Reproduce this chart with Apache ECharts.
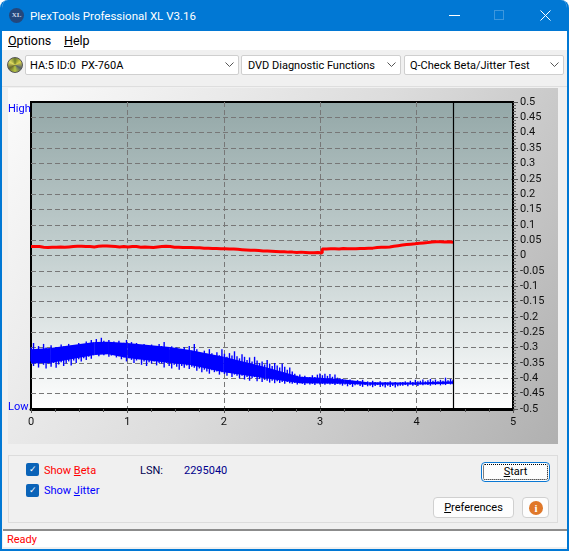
<!DOCTYPE html>
<html>
<head>
<meta charset="utf-8">
<title>PlexTools Professional XL V3.16</title>
<script src="https://cdn.jsdelivr.net/npm/echarts@6/dist/echarts.min.js"></script>
<style>
html, body { margin: 0; padding: 0; width: 569px; height: 551px; overflow: hidden; background: #fff; }
body { font-family: Roboto, "Noto Sans", sans-serif; font-size: 11px; color: #000; }
div { position: absolute; box-sizing: border-box; white-space: nowrap; }
#win { left: 0; top: 0; width: 569px; height: 551px; background: #f0f0f0; border: 2px solid #0178d4; border-top: 0; border-radius: 8px 8px 0 0; overflow: hidden; }
#bar { left: -2px; top: 0; width: 569px; height: 31px; background: #0178d4; color: #fff; font-size: 11.5px; line-height: 32px; padding-left: 30px; }
#menu { left: -2px; top: 31px; width: 569px; height: 19px; background: #fff; line-height: 20px; font-size: 12.5px; }
.combo { top: 55px; height: 20px; background: #fff; border: 1px solid #cfcfcf; border-radius: 2px; line-height: 19px; font-size: 11px; }
.combo svg { position: absolute; right: 4px; top: 6px; }
#chart { left: 6px; top: 88px; width: 550px; height: 356px; }
#group { left: 6px; top: 455px; width: 550px; height: 68px; border: 1px solid #dcdcdc; }
.check { width: 13px; height: 13px; left: 24px; background: #0a63b8; border-radius: 2px; color: #fff; font-size: 9px; line-height: 13px; text-align: center; }
.btn { background: #fdfdfd; border: 1px solid #d0d0d0; border-radius: 4px; text-align: center; }
#status { left: 1px; top: 529px; width: 565px; height: 18px; background: #fff; border-top: 2px solid #8c8c8c; color: #f00; line-height: 17px; padding-left: 4px; }
</style>
</head>
<body>
<div id="win">
  <div id="bar">PlexTools Professional XL V3.16
    <div style="left:9px;top:8px;width:15px;height:15px;border-radius:8px;background:#23477c;color:#cdd8e8;font:bold 7px/15px 'Liberation Serif';text-align:center;padding:0">XL</div>
    <div style="left:449px;top:15px;width:11px;height:1px;background:#fff"></div>
    <div style="left:494px;top:10px;width:10px;height:10px;border:1px solid #3d97dd"></div>
    <svg style="position:absolute;left:540px;top:10px" width="11" height="11"><path d="M0.5 0.5L10.5 10.5M10.5 0.5L0.5 10.5" stroke="#fff" fill="none"/></svg>
  </div>
  <div id="menu">
    <div style="left:8px;top:0"><u>O</u>ptions</div>
    <div style="left:64px;top:0"><u>H</u>elp</div>
  </div>
  <div style="left:5px;top:57px;width:16px;height:16px;border-radius:8px;background:conic-gradient(#6a7a2a,#d8d24a,#55606a,#b8c840,#6a6a30,#e0dc60,#6a7a2a);border:1px solid #555"></div>
  <div class="combo" style="left:23px;width:214px;padding-left:4px">HA:5 ID:0&nbsp; PX-760A<svg width="9" height="6"><path d="M0.5 0.5L4.5 4.5L8.5 0.5" stroke="#555" fill="none"/></svg></div>
  <div class="combo" style="left:239px;width:160px;padding-left:6px">DVD Diagnostic Functions<svg width="9" height="6"><path d="M0.5 0.5L4.5 4.5L8.5 0.5" stroke="#555" fill="none"/></svg></div>
  <div class="combo" style="left:402px;width:160px;padding-left:5px">Q-Check Beta/Jitter Test<svg width="9" height="6"><path d="M0.5 0.5L4.5 4.5L8.5 0.5" stroke="#555" fill="none"/></svg></div>
  <div style="left:0;top:86px;width:565px;height:1px;background:#dedede"></div>
  <div id="chart"></div>
  <div id="group"></div>
  <div class="check" style="top:463px">✓</div>
  <div class="check" style="top:484px">✓</div>
  <div style="left:42px;top:464px;color:#f00"><span>Show <u>B</u>eta</span></div>
  <div style="left:42px;top:484px;color:#00f"><span>Show <u>J</u>itter</span></div>
  <div style="left:138px;top:464px;color:#000050">LSN:</div>
  <div style="left:182px;top:464px;color:#00008c">2295040</div>
  <div class="btn" style="left:479px;top:462px;width:69px;height:20px;line-height:18px;border:1px solid #0a78d4;outline:1px dotted #000;outline-offset:-3px"><u>S</u>tart</div>
  <div class="btn" style="left:431px;top:497px;width:81px;height:21px;line-height:19px"><u>P</u>references</div>
  <div class="btn" style="left:520px;top:497px;width:27px;height:21px"><div style="left:6px;top:3px;width:14px;height:14px;border-radius:7px;background:#e0782a;color:#fff;font:bold 11px/14px 'Liberation Serif';text-align:center">i</div></div>
  <div id="status">Ready</div>
</div>
<script>
// values
const xTicks = [0, 1, 2, 3, 4, 5];
const xMarker = 4.378;

const betaValues = [
  0.029, 0.029, 0.027, 0.026, 0.027, 0.027, 0.028, 0.027, 0.028, 0.029, 0.030, 0.030, 0.029, 0.029, 0.028, 0.030, 0.031, 0.031, 0.030, 0.029,
  0.028, 0.029, 0.028, 0.029, 0.029, 0.027, 0.028, 0.027, 0.026, 0.028, 0.029, 0.030, 0.029, 0.027, 0.027, 0.026, 0.026, 0.026, 0.025, 0.025,
  0.024, 0.024, 0.023, 0.023, 0.022, 0.022, 0.021, 0.021, 0.020, 0.019, 0.018, 0.017, 0.017, 0.016, 0.015, 0.015, 0.014, 0.013, 0.012, 0.012,
  0.011, 0.011, 0.010, 0.011, 0.010, 0.009, 0.009, 0.010, 0.008, 0.021, 0.022, 0.022, 0.021, 0.023, 0.022, 0.022, 0.022, 0.023, 0.023, 0.024,
  0.024, 0.026, 0.027, 0.027, 0.028, 0.030, 0.032, 0.034, 0.036, 0.037, 0.038, 0.040, 0.041, 0.042, 0.044, 0.045, 0.045, 0.044, 0.045, 0.043, 0.042
];

const jitterTop = [
  -0.300, -0.285, -0.305, -0.295, -0.310, -0.288, -0.300, -0.305, -0.292, -0.310, -0.298, -0.302, -0.290, -0.296, -0.306, -0.288, -0.294, -0.300, -0.292, -0.285, -0.296, -0.290, -0.280, -0.288, -0.275, -0.284,
  -0.272, -0.282, -0.268, -0.278, -0.285, -0.275, -0.290, -0.280, -0.286, -0.278, -0.292, -0.284, -0.275, -0.288, -0.282, -0.295, -0.285, -0.292, -0.300, -0.288, -0.296, -0.305, -0.290, -0.298, -0.304, -0.288,
  -0.295, -0.282, -0.300, -0.306, -0.296, -0.310, -0.300, -0.315, -0.305, -0.298, -0.312, -0.295, -0.310, -0.288, -0.305, -0.315, -0.325, -0.310, -0.320, -0.305, -0.318, -0.328,
  -0.315, -0.325, -0.305, -0.320, -0.330, -0.318, -0.326, -0.312, -0.328, -0.335, -0.322, -0.330, -0.340, -0.332, -0.345, -0.330, -0.342, -0.350, -0.345, -0.355, -0.340, -0.352, -0.360, -0.350, -0.358, -0.365, -0.352, -0.362, -0.372, -0.365, -0.378, -0.385, -0.392, -0.388,
  -0.395, -0.392, -0.398, -0.396, -0.390, -0.396, -0.388, -0.384, -0.390, -0.385, -0.392, -0.386, -0.395, -0.388, -0.398, -0.400,
  -0.402, -0.405, -0.410, -0.404, -0.408, -0.412, -0.406, -0.410, -0.405, -0.412, -0.410, -0.414, -0.408, -0.412, -0.414, -0.410, -0.416, -0.412, -0.414, -0.410, -0.415, -0.412, -0.416, -0.413,
  -0.412, -0.410, -0.414, -0.408, -0.412, -0.405, -0.410, -0.408, -0.404, -0.410, -0.406, -0.402, -0.408, -0.404, -0.410, -0.405, -0.408, -0.398, -0.406, -0.402, -0.405
];

const jitterBottom = [
  -0.345, -0.360, -0.350, -0.365, -0.348, -0.356, -0.368, -0.352, -0.362, -0.350, -0.366, -0.355, -0.348, -0.360, -0.352, -0.345, -0.358, -0.342, -0.350, -0.338, -0.345, -0.335, -0.340, -0.330, -0.336, -0.325,
  -0.322, -0.328, -0.318, -0.325, -0.320, -0.330, -0.326, -0.322, -0.332, -0.328, -0.338, -0.332, -0.345, -0.335, -0.340, -0.350, -0.342, -0.338, -0.356, -0.345, -0.360, -0.348, -0.352, -0.345, -0.358, -0.350,
  -0.352, -0.365, -0.350, -0.360, -0.368, -0.356, -0.362, -0.372, -0.360, -0.366, -0.358, -0.370, -0.362, -0.366, -0.375, -0.368, -0.380, -0.372, -0.378, -0.385, -0.374, -0.380,
  -0.378, -0.388, -0.380, -0.386, -0.392, -0.382, -0.396, -0.388, -0.392, -0.400, -0.392, -0.404, -0.396, -0.408, -0.400, -0.396, -0.410, -0.402, -0.412, -0.405, -0.408, -0.414, -0.408, -0.416, -0.410, -0.415, -0.412, -0.418, -0.412, -0.416, -0.418, -0.415, -0.420, -0.416,
  -0.418, -0.422, -0.416, -0.420, -0.418, -0.422, -0.416, -0.420, -0.418, -0.421, -0.417, -0.420, -0.418, -0.422, -0.418, -0.420,
  -0.424, -0.420, -0.426, -0.422, -0.428, -0.423, -0.420, -0.425, -0.428, -0.422, -0.426, -0.424, -0.429, -0.425, -0.422, -0.428, -0.426, -0.430, -0.424, -0.428, -0.425, -0.430, -0.426, -0.424,
  -0.424, -0.422, -0.426, -0.420, -0.424, -0.422, -0.425, -0.420, -0.423, -0.420, -0.422, -0.424, -0.420, -0.422, -0.419, -0.423, -0.420, -0.422, -0.418, -0.420, -0.419
];

// solid middle of the jitter trace
const coreX = [0, 0.2, 0.66, 0.8, 1, 1.44, 1.65, 2, 2.43, 2.79, 3, 3.25, 3.5, 4, 4.378];
const coreTop = [-0.305, -0.301, -0.282, -0.281, -0.285, -0.298, -0.308, -0.330, -0.363, -0.395, -0.398, -0.404, -0.413, -0.414, -0.410];
const coreBottom = [-0.352, -0.350, -0.324, -0.322, -0.334, -0.350, -0.357, -0.380, -0.400, -0.416, -0.417, -0.418, -0.421, -0.420, -0.418];

// samples run evenly from the start of the disc to the cursor
const betaData = betaValues.map((v, i) => [i / (betaValues.length - 1) * xMarker, v]);
const jitterData = jitterTop.map((v, i) => [i / (jitterTop.length - 1) * xMarker, v, jitterBottom[i]]);
const coreData = coreX.map((x, i) => [x, coreTop[i], coreBottom[i]]);

function renderJitter(params, api) {
    let top = api.coord([api.value(0), api.value(1)]);
    let bottom = api.coord([api.value(0), api.value(2)]);
    return {
        type: 'line',
        shape: { x1: top[0], y1: top[1], x2: bottom[0], y2: bottom[1] },
        style: { stroke: '#0000ff', lineWidth: 1.4 }
    };
}

function renderCore(params, api) {
    if (params.dataIndex >= coreData.length - 1) {
        return null;
    }
    let next = coreData[params.dataIndex + 1];
    return {
        type: 'polygon',
        shape: {
            points: [
                api.coord([api.value(0), api.value(1)]),
                api.coord([next[0], next[1]]),
                api.coord([next[0], next[2]]),
                api.coord([api.value(0), api.value(2)])
            ]
        },
        style: { fill: '#0000ff' }
    };
}

const myChart = echarts.init(document.getElementById('chart'));
const option = {
    animation: false,
    backgroundColor: new echarts.graphic.LinearGradient(0, 0, 1, 1, [
        { offset: 0, color: '#fbfbfb' },
        { offset: 0.5, color: '#dcdcdc' },
        { offset: 1, color: '#b0b0b0' }
    ]),
    textStyle: { fontFamily: 'Roboto' },
    grid: {
        show: true,
        left: 23,
        top: 14,
        right: 45,
        bottom: 35,
        borderColor: '#000',
        borderWidth: 2,
        backgroundColor: new echarts.graphic.LinearGradient(0, 0, 0, 1, [
            { offset: 0, color: '#93a7a7' },
            { offset: 0.5, color: '#c4d0d0' },
            { offset: 1, color: '#ffffff' }
        ])
    },
    xAxis: {
        type: 'value',
        min: xTicks[0],
        max: xTicks[xTicks.length - 1],
        interval: 1,
        axisLine: { onZero: false, lineStyle: { color: '#000', width: 3 } },
        axisTick: { show: true, length: 4, lineStyle: { color: '#555' } },
        minorTick: { show: true, splitNumber: 4, length: 3, lineStyle: { color: '#555' } },
        axisLabel: { color: '#111', fontSize: 11, margin: 8 },
        splitLine: { show: true, showMinLine: false, showMaxLine: false, lineStyle: { color: '#777', type: [5, 3], width: 1 } }
    },
    yAxis: {
        type: 'value',
        position: 'right',
        min: -0.5,
        max: 0.5,
        interval: 0.05,
        axisLine: { show: true, onZero: false, lineStyle: { color: '#000', width: 2 } },
        axisTick: { show: true, length: 5, lineStyle: { color: '#555' } },
        minorTick: { show: true, splitNumber: 5, length: 3, lineStyle: { color: '#666' } },
        axisLabel: { color: '#111', fontSize: 11, margin: 7, hideOverlap: false },
        splitLine: { show: true, showMinLine: false, showMaxLine: false, lineStyle: { color: '#777', type: [5, 3], width: 1 } }
    },
    series: [
        {
            name: 'Beta',
            type: 'line',
            data: betaData,
            step: 'end',
            showSymbol: false,
            lineStyle: { color: '#ff0000', width: 3 },
            z: 3
        },
        {
            name: 'Jitter',
            type: 'custom',
            data: jitterData,
            encode: { x: 0, y: [1, 2] },
            renderItem: renderJitter,
            silent: true,
            z: 3
        },
        {
            name: 'Jitter core',
            type: 'custom',
            data: coreData,
            encode: { x: 0, y: [1, 2] },
            renderItem: renderCore,
            silent: true,
            z: 3
        },
        {
            name: 'Cursor',
            type: 'line',
            data: [],
            markLine: {
                silent: true,
                symbol: 'none',
                label: { show: false },
                lineStyle: { color: '#000', type: 'solid', width: 1.2 },
                data: [{ xAxis: xMarker }]
            }
        }
    ],
    graphic: [
        { type: 'text', left: 0, top: 16, style: { text: 'High', fill: '#0000ff', fontSize: 11, fontFamily: 'Roboto' } },
        { type: 'text', left: 0, top: 314, style: { text: 'Low', fill: '#0000ff', fontSize: 11, fontFamily: 'Roboto' } }
    ]
};
myChart.setOption(option);
</script>
</body>
</html>
